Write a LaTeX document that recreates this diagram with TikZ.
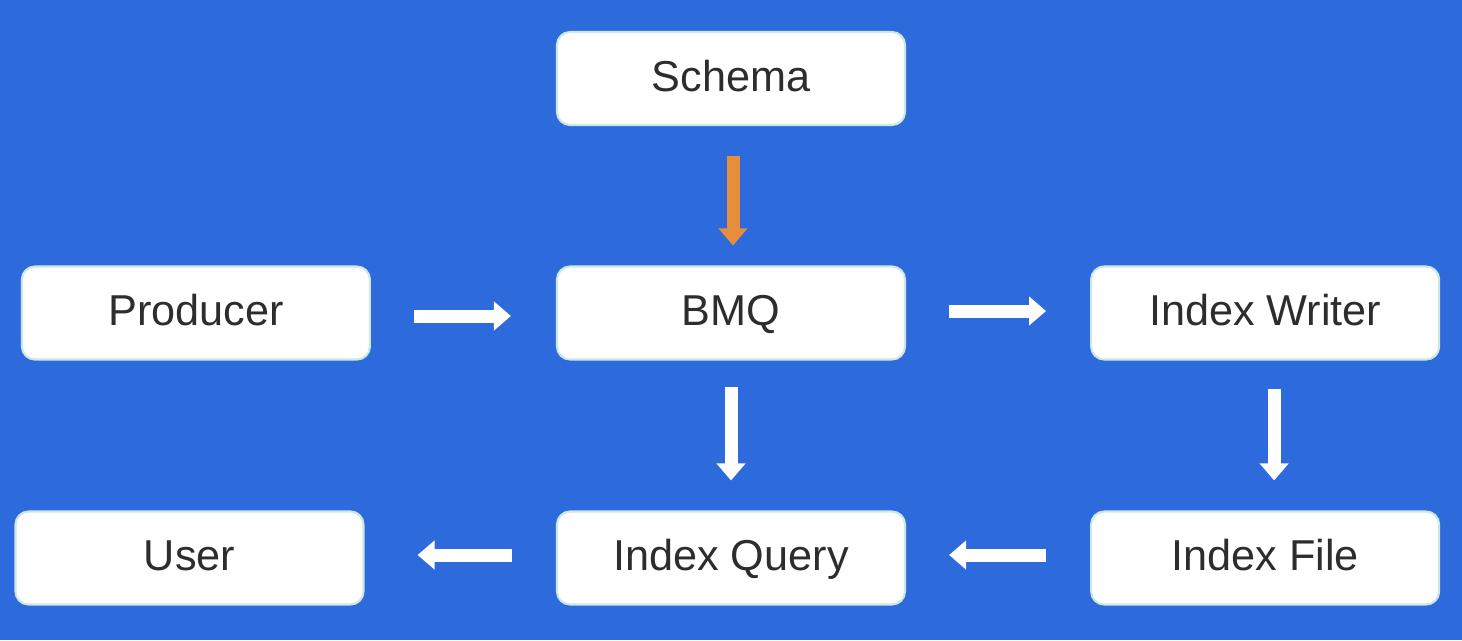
\documentclass[tikz,border=0pt]{standalone}
\usepackage{xcolor}
\usepackage{fontspec}
\setmainfont{Liberation Sans}
\usepackage{tikz}
\usetikzlibrary{arrows.meta,positioning}

\definecolor{bgblue}{RGB}{45,107,221}
\definecolor{flowor}{RGB}{230,142,60}
\definecolor{boxtext}{RGB}{45,45,45}
\definecolor{boxedge}{RGB}{205,232,225}

\begin{document}
\begin{tikzpicture}[node distance=1.85cm,
            flow/.style={-{Triangle[width=0.28cm,length=0.17cm]},line width=0.13cm,draw=white}]
        \tikzstyle{box}=[draw=boxedge,line width=0.6pt,fill=white,rounded corners=0.13cm,
            minimum width=3.48cm,minimum height=0.93cm,text=boxtext,
            text height=0.95em,text depth=0.22em,font=\fontsize{12.3}{14}\selectfont]

        \fill[bgblue] (0,0) rectangle (14.62,6.4);
        \useasboundingbox (0,0) rectangle (14.62,6.4);

        \node[box] (B) at (7.31,3.27) {BMQ};
        \node[box] (S) at (7.31,5.615) {Schema};
        \node[box] (P) [left=of B] {Producer};
        \node[box] (W) [right=1.84cm of B] {Index Writer};
        \node[box] (Q) at (7.31,0.82) {Index Query};
        \node[box] (F) [right=1.84cm of Q] {Index File};
        \node[box] (U) at (1.895,0.82) {User};

        \draw[flow,draw=flowor,shorten <=0.3cm,shorten >=0.2cm] ([xshift=0.02cm]S.south) -- ([xshift=0.02cm]B.north);
        \draw[flow,shorten <=0.43cm,shorten >=0.45cm] ([yshift=-0.03cm]P.east) -- ([yshift=-0.03cm]B.west);
        \draw[flow,shorten <=0.43cm,shorten >=0.44cm] ([yshift=0.02cm]B.east) -- ([yshift=0.02cm]W.west);
        \draw[flow,shorten <=0.26cm,shorten >=0.3cm] (B) -- (Q);
        \draw[flow,shorten <=0.28cm,shorten >=0.3cm] ([xshift=0.09cm]W.south) -- ([xshift=0.09cm]F.north);
        \draw[flow,shorten <=0.44cm,shorten >=0.43cm] ([yshift=0.03cm]F.west) -- ([yshift=0.03cm]Q.east);
        \draw[flow,shorten <=0.44cm,shorten >=0.53cm] ([yshift=0.03cm]Q.west) -- ([yshift=0.03cm]U.east);
    \end{tikzpicture}
\end{document}
